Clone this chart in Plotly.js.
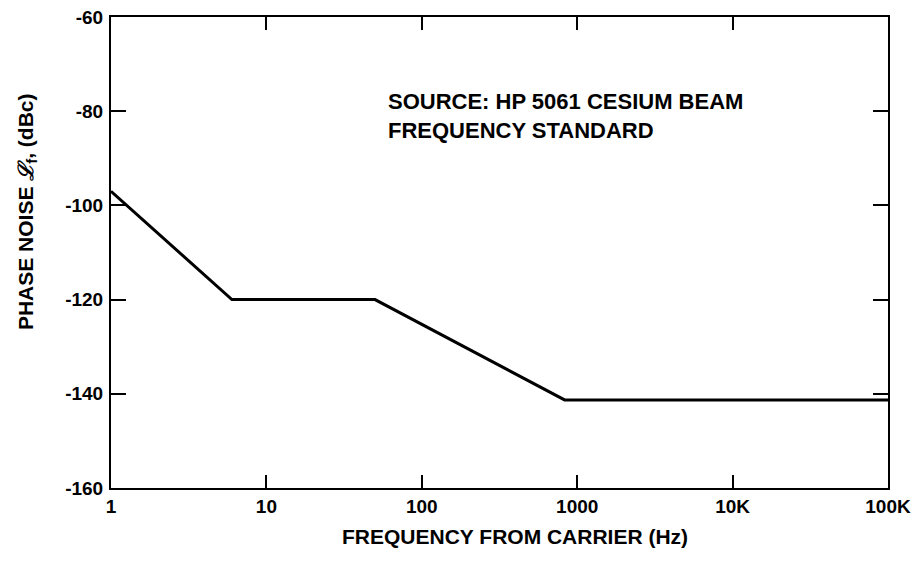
<!DOCTYPE html>
<html>
<head>
<meta charset="utf-8">
<script src="https://cdn.plot.ly/plotly-3.0.1.min.js"></script>
<style>html,body{margin:0;padding:0;background:#fff;}#chart{width:921px;height:561px;}</style>
</head>
<body>
<div id="chart"></div>
<script>
// Data
const freqHz = [1, 6, 50, 830, 100000];
const phaseNoiseDbc = [-97, -120, -120, -141.3, -141.3];
const xTickVals = [1, 10, 100, 1000, 10000, 100000];
const xTickText = ['1', '10', '100', '1000', '10K', '100K'];
const yTickVals = [-160, -140, -120, -100, -80, -60];
const yTickText = ['-160', '-140', '-120', '-100', '-80', '-60'];

const fontFam = '"Liberation Sans", Arial, Helvetica, sans-serif';
const b = s => '<b>' + s + '</b>';

const trace = {
  x: freqHz,
  y: phaseNoiseDbc,
  type: 'scatter',
  mode: 'lines',
  line: {color: '#000', width: 3},
  hoverinfo: 'skip'
};

const layout = {
  width: 921,
  height: 561,
  margin: {l: 111, r: 33, t: 17, b: 73},
  paper_bgcolor: '#fff',
  plot_bgcolor: '#fff',
  showlegend: false,
  font: {family: fontFam, color: '#000', size: 19},
  xaxis: {
    type: 'log',
    range: [0, 5],
    tickvals: xTickVals,
    ticktext: xTickText.map(b),
    ticks: 'inside',
    ticklen: 13,
    tickwidth: 2,
    tickcolor: '#000',
    showline: true,
    linecolor: '#000',
    linewidth: 2,
    mirror: 'ticks',
    showgrid: false,
    zeroline: false,
    tickfont: {family: fontFam, size: 19, color: '#000'}
  },
  yaxis: {
    range: [-160, -60],
    tickvals: yTickVals,
    ticktext: yTickText.map(b),
    ticks: 'inside',
    ticklen: 15,
    tickwidth: 2,
    tickcolor: '#000',
    showline: true,
    linecolor: '#000',
    linewidth: 2,
    mirror: 'ticks',
    showgrid: false,
    zeroline: false,
    ticklabelstandoff: 2,
    tickfont: {family: fontFam, size: 19, color: '#000'}
  },
  annotations: [
    {
      text: b('SOURCE: HP 5061 CESIUM BEAM') + '<br>' + b('FREQUENCY STANDARD'),
      xref: 'paper', yref: 'paper',
      x: 0.354, y: 0.852,
      xanchor: 'left', yanchor: 'top',
      align: 'left',
      showarrow: false,
      font: {family: fontFam, size: 22, color: '#000'}
    },
    {
      text: b('FREQUENCY FROM CARRIER (Hz)'),
      xref: 'paper', yref: 'paper',
      x: 0.52, y: -0.075,
      xanchor: 'center', yanchor: 'top',
      showarrow: false,
      font: {family: fontFam, size: 21, color: '#000'}
    },
    {
      text: b('PHASE NOISE <i>ℒ</i><sub>f</sub>, (dBc)'),
      xref: 'paper', yref: 'paper',
      x: -0.108, y: 0.586,
      xanchor: 'center', yanchor: 'middle',
      textangle: -90,
      showarrow: false,
      font: {family: fontFam, size: 21, color: '#000'}
    }
  ]
};

Plotly.newPlot('chart', [trace], layout, {displayModeBar: false, staticPlot: true});
</script>
</body>
</html>
